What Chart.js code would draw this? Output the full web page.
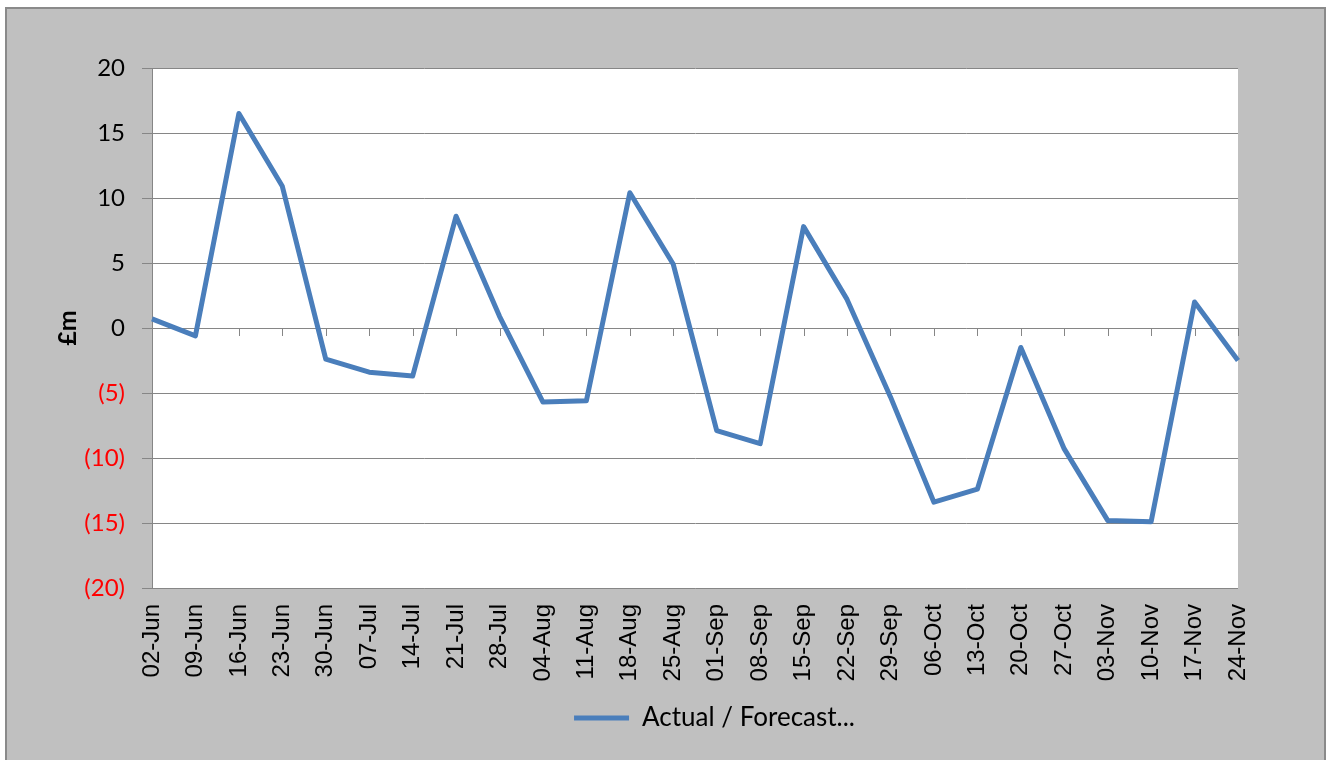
<!DOCTYPE html>
<html>
<head>
<meta charset="utf-8">
<script src="https://cdn.jsdelivr.net/npm/chart.js@4"></script>
<style>
  body { margin: 0; overflow: hidden; background: #fff; }
  canvas { display: block; }
</style>
</head>
<body>
<canvas id="chart" width="1333" height="760"></canvas>
<script>
const weeks = ['02-Jun', '09-Jun', '16-Jun', '23-Jun', '30-Jun', '07-Jul', '14-Jul', '21-Jul', '28-Jul',
	'04-Aug', '11-Aug', '18-Aug', '25-Aug', '01-Sep', '08-Sep', '15-Sep', '22-Sep', '29-Sep',
	'06-Oct', '13-Oct', '20-Oct', '27-Oct', '03-Nov', '10-Nov', '17-Nov', '24-Nov'];
const actualForecast = [0.7, -0.6, 16.5, 10.9, -2.4, -3.4, -3.7, 8.6, 0.9,
	-5.7, -5.6, 10.4, 4.9, -7.9, -8.9, 7.8, 2.2, -5.3,
	-13.4, -12.4, -1.5, -9.3, -14.8, -14.9, 2.0, -2.5];
const yMin = -20, yMax = 20, yStep = 5;

const gridGrey = '#868686';

// gray frame + white plot area
const framePlugin = {
	id: 'frame',
	afterLayout(chart) {
		// nudge the legend right so it sits under the plot like the original
		const lg = chart.legend;
		if (lg) { lg.left += 71; lg.right += 71; }
	},
	beforeDraw(chart) {
		const c = chart.ctx, a = chart.chartArea;
		c.save();
		c.fillStyle = '#ffffff';
		c.fillRect(0, 0, chart.width, chart.height);
		c.fillStyle = '#c0c0c0';
		c.fillRect(6, 8, 1319, 760);
		c.strokeStyle = '#8a8a8a';
		c.lineWidth = 2;
		c.strokeRect(6, 8, 1319, 760);
		c.fillStyle = '#ffffff';
		c.fillRect(a.left, a.top, a.right - a.left, a.bottom - a.top);
		c.restore();
	}
};

// little category ticks hanging off the zero line
const zeroTicks = {
	id: 'zeroTicks',
	beforeDatasetsDraw(chart) {
		const c = chart.ctx, xs = chart.scales.x, ys = chart.scales.y;
		const y0 = ys.getPixelForValue(0);
		c.save();
		c.strokeStyle = gridGrey;
		c.lineWidth = 1;
		c.beginPath();
		weeks.forEach((w, i) => {
			const x = Math.round(xs.getPixelForValue(i)) + 0.5;
			c.moveTo(x, y0);
			c.lineTo(x, y0 + 8);
		});
		c.stroke();
		c.restore();
	}
};

new Chart(document.getElementById('chart'), {
	type: 'line',
	data: {
		labels: weeks,
		datasets: [{
			label: 'Actual / Forecast...',
			data: actualForecast,
			borderColor: '#4a7ebb',
			backgroundColor: '#4a7ebb',
			borderWidth: 5,
			borderJoinStyle: 'round',
			pointRadius: 0,
			tension: 0
		}]
	},
	options: {
		responsive: false,
		devicePixelRatio: 1,
		animation: false,
		layout: { padding: { left: 49, top: 68, right: 95, bottom: 19 } },
		plugins: {
			tooltip: { enabled: false },
			legend: {
				position: 'bottom',
				labels: {
					color: '#000',
					font: { family: 'Lato', size: 26 },
					usePointStyle: true,
					pointStyle: 'line',
					pointStyleWidth: 55,
					boxHeight: 4,
					padding: 14
				}
			}
		},
		scales: {
			x: {
				offset: false,
				grid: { display: false, drawTicks: false },
				border: { display: false },
				ticks: {
					color: '#000',
					font: { family: 'Liberation Sans', size: 24 },
					minRotation: 90,
					maxRotation: 90,
					autoSkip: false,
					padding: 16
				},
				afterFit(scale) { scale.height = 103; }
			},
			y: {
				min: yMin,
				max: yMax,
				grid: { color: gridGrey, lineWidth: 1, tickLength: 10 },
				border: { display: true, color: gridGrey },
				ticks: {
					stepSize: yStep,
					padding: 17,
					font: { family: 'Lato', size: 24 },
					color: (ctx) => ctx.tick.value < 0 ? '#ff0000' : '#000000',
					callback: (v) => v < 0 ? '(' + (-v) + ')' : String(v)
				},
				title: {
					display: true,
					text: '£m',
					color: '#000',
					font: { family: 'Lato', size: 25, weight: 'bold' }
				},
				afterFit(scale) { scale.width = 103; }
			}
		}
	},
	plugins: [framePlugin, zeroTicks]
});
</script>
</body>
</html>
